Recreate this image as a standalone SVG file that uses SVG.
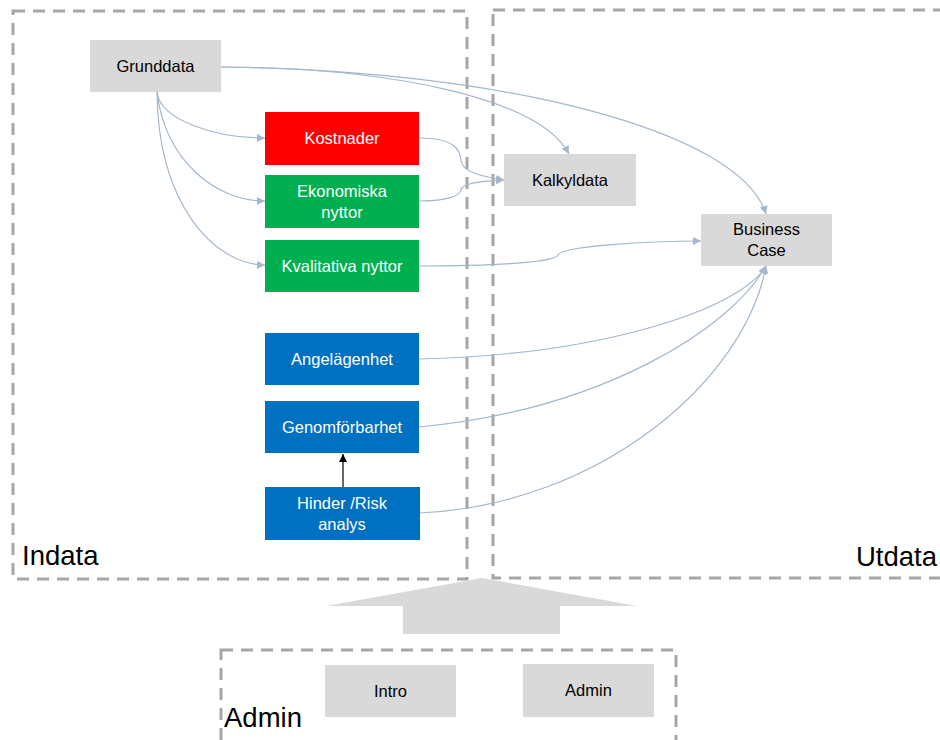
<svg xmlns="http://www.w3.org/2000/svg" width="940" height="740" viewBox="0 0 940 740">
<style>
.frame{fill:none;stroke:#a6a6a6;stroke-width:3;stroke-dasharray:12,8}
.gray{fill:#d9d9d9}
.red{fill:#ff0000}
.green{fill:#00b050}
.blue{fill:#0070c0}
.t{font-family:"Liberation Sans",Arial,sans-serif;font-size:16.5px;text-anchor:middle}
.dk{fill:#000}
.wt{fill:#fff}
.big{font-family:"Liberation Sans",Arial,sans-serif;font-size:27.5px;fill:#000}
.c{fill:none;stroke:#a5b7cc;stroke-width:1.2}
</style>
<defs>
<marker id="ah" viewBox="0 0 10 10" refX="10" refY="5" markerWidth="8" markerHeight="8" markerUnits="userSpaceOnUse" orient="auto"><path d="M0,0 L10,5 L0,10 z" fill="#a5b7cc"/></marker>
<marker id="ahk" viewBox="0 0 10 10" refX="10" refY="5" markerWidth="8" markerHeight="8" markerUnits="userSpaceOnUse" orient="auto"><path d="M0,0 L10,5 L0,10 z" fill="#000"/></marker>
</defs>
<g id="frames">
<rect class="frame" x="13" y="11" width="454" height="568"/>
<rect class="frame" x="493" y="10" width="460" height="568"/>
<rect class="frame" x="221" y="650" width="455" height="110"/>
<text class="big" x="22" y="565">Indata</text>
<text class="big" x="937" y="566" text-anchor="end">Utdata</text>
<text class="big" x="224" y="727">Admin</text>
</g>
<g id="bigarrow"><path d="M482,578 L637,606 L560,606 L560,634 L403,634 L403,606 L326,606 z" fill="#d9d9d9"/></g>
<g id="connectors">
<path class="c" marker-end="url(#ah)" d="M157,92 C160,120 215,138 265,138"/>
<path class="c" marker-end="url(#ah)" d="M157,92 C165,160 215,201 265,201"/>
<path class="c" marker-end="url(#ah)" d="M157,92 C158,205 215,265 265,265"/>
<path class="c" marker-end="url(#ah)" d="M221,67 C400,68 540,100 569,154"/>
<path class="c" marker-end="url(#ah)" d="M221,67 C500,70 740,130 766,214"/>
<path class="c" marker-end="url(#ah)" d="M419,138 C455,138 460,150 461,160 C462,172 480,176 504,180"/>
<path class="c" marker-end="url(#ah)" d="M419,201 C450,201 460,195 461,190 C462,183 480,181 504,180"/>
<path class="c" marker-end="url(#ah)" d="M419,266 C500,266 555,262 558,255 C562,246 650,241 701,241"/>
<path class="c" marker-end="url(#ah)" d="M419,359 C600,355 740,310 766,266"/>
<path class="c" marker-end="url(#ah)" d="M419,427 C600,410 730,330 766,266"/>
<path class="c" marker-end="url(#ah)" d="M419,513 C600,505 745,380 766,266"/>
<path fill="none" stroke="#000" stroke-width="1.2" marker-end="url(#ahk)" d="M343,487 L343,454"/>
</g>
<g id="grunddata"><rect class="gray" x="90" y="40" width="131" height="52"/><text class="t dk" x="155.5" y="72">Grunddata</text></g>
<g id="kostnader"><rect class="red" x="265" y="112" width="154" height="53"/><text class="t wt" x="342" y="144">Kostnader</text></g>
<g id="ekonomiska"><rect class="green" x="265" y="175" width="154" height="53"/><text class="t wt" x="342" y="197">Ekonomiska</text><text class="t wt" x="342" y="218">nyttor</text></g>
<g id="kvalitativa"><rect class="green" x="265" y="240" width="154" height="52"/><text class="t wt" x="342" y="271.5">Kvalitativa  nyttor</text></g>
<g id="angelagenhet"><rect class="blue" x="265" y="333" width="154" height="52"/><text class="t wt" x="342" y="364.5">Angelägenhet</text></g>
<g id="genomforbarhet"><rect class="blue" x="265" y="401" width="154" height="52"/><text class="t wt" x="342" y="432.5">Genomförbarhet</text></g>
<g id="hinder"><rect class="blue" x="265" y="487" width="155" height="53"/><text class="t wt" x="342" y="509">Hinder /Risk</text><text class="t wt" x="342" y="530">analys</text></g>
<g id="kalkyldata"><rect class="gray" x="504" y="154" width="132" height="52"/><text class="t dk" x="570" y="186">Kalkyldata</text></g>
<g id="businesscase"><rect class="gray" x="701" y="214" width="131" height="52"/><text class="t dk" x="766.5" y="235">Business</text><text class="t dk" x="766.5" y="256">Case</text></g>
<g id="intro"><rect class="gray" x="325" y="665" width="131" height="52"/><text class="t dk" x="390.5" y="696.5">Intro</text></g>
<g id="admin"><rect class="gray" x="523" y="664" width="131" height="53"/><text class="t dk" x="588.5" y="695.5">Admin</text></g>
</svg>
